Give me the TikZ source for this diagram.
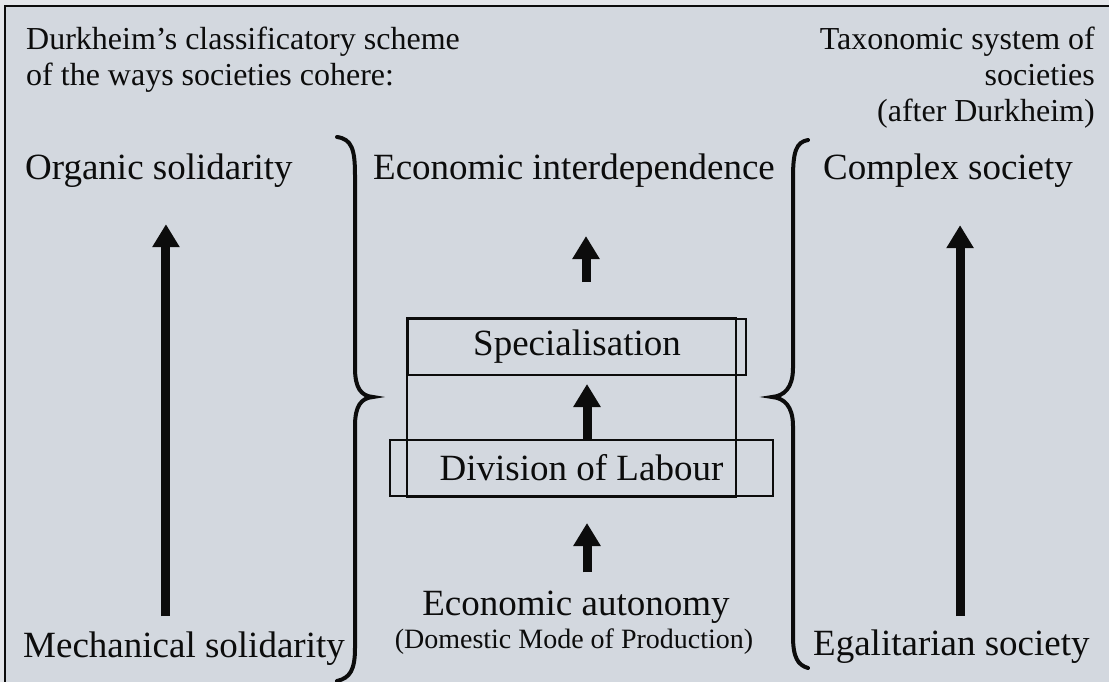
\documentclass[tikz,border=0pt]{standalone}
\usepackage{fontspec}
\setmainfont{Liberation Serif}
\usetikzlibrary{arrows.meta,positioning}

\definecolor{paper}{HTML}{D3D8DF}
\definecolor{margin}{HTML}{E4E6EA}
\definecolor{ink}{HTML}{0C0C0C}

\begin{document}
\begin{tikzpicture}[
    x=1pt, y=-1pt,
    every node/.style={inner sep=0pt, text=ink},
    label/.style={font=\fontsize{37}{44}\selectfont},
    heading/.style={font=\fontsize{32}{36}\selectfont},
    small/.style={font=\fontsize{28}{33}\selectfont},
    boxed/.style={label, draw=ink, line width=2pt, minimum height=56pt},
    bigarrow/.style={draw=ink, line width=9pt, -{Triangle[width=26pt,length=23pt]}},
    brace/.style={draw=ink, line width=4pt, line cap=round}
]
\useasboundingbox (0,0) rectangle (1109,682);
\fill[margin] (0,0) rectangle (1109,682);
\fill[paper] (5,6) rectangle (1109,682);
\draw[ink, line width=2pt] (5,682) -- (5,6) -- (1109,6);

% headings
\node[heading, anchor=north west, align=left] (scheme) at (26,27)
    {Durkheim's classificatory scheme\\of the ways societies cohere:};
\node[heading, anchor=north east, align=right] (taxonomy) at (1095,27)
    {Taxonomic system of\\societies\\(after Durkheim)};

% left column
\node[label, anchor=base west] (organic) at (25,179) {Organic solidarity};
\node[label, anchor=base west] (mechanical) at (23,657) {Mechanical solidarity};

% right column
\node[label, anchor=base west] (complex) at (823,179) {Complex society};
\node[label, anchor=base west] (egalitarian) at (813,655) {Egalitarian society};

% middle column
\node[label, anchor=base] (interdep) at (574,179) {Economic interdependence};
\node[boxed, minimum width=338pt] (special) at (577,347) {Specialisation};
\node[boxed, minimum width=383pt] (division) at (581.5,468) {Division of Labour};
\node[label, anchor=base] (autonomy) at (576,615) {Economic autonomy};
\node[small, anchor=base] (dmp) at (574,648) {(Domestic Mode of Production)};

\draw[ink, line width=2pt] (special.north west)
    rectangle ([xshift=-11pt]special.east |- division.south);

% arrows
\draw[bigarrow, shorten <=15pt, shorten >=37pt]
    ([xshift=7pt]organic.south |- mechanical.north) -- ([xshift=7pt]organic.south);
\draw[bigarrow, shorten <=13pt, shorten >=38pt]
    ([xshift=12pt]complex.south |- egalitarian.north) -- ([xshift=12pt]complex.south);
\draw[bigarrow, shorten <=36pt, shorten >=49pt]
    ([xshift=9pt]special.north) -- ([xshift=9pt]special.north |- interdep.south);
\draw[bigarrow, shorten >=8pt]
    ([xshift=5.5pt]division.north) -- ([xshift=5.5pt]division.north |- special.south);
\draw[bigarrow, shorten <=18pt, shorten >=26pt]
    ([xshift=11pt]autonomy.north) -- ([xshift=11pt]autonomy.north |- division.south);

% braces
\draw[brace] (337,137) .. controls (352,139) and (355,150) .. (355,175)
    -- (355,368) .. controls (355,388) and (361,396) .. (373,397)
    .. controls (361,398) and (355,406) .. (355,426)
    -- (355,648) .. controls (355,670) and (350,678) .. (337,681);
\draw[brace] (808,140) .. controls (796,142) and (793,152) .. (793,178)
    -- (793,368) .. controls (793,388) and (784,396) .. (772,397)
    .. controls (784,398) and (793,406) .. (793,426)
    -- (793,636) .. controls (793,658) and (798,665) .. (808,668);
\end{tikzpicture}
\end{document}
